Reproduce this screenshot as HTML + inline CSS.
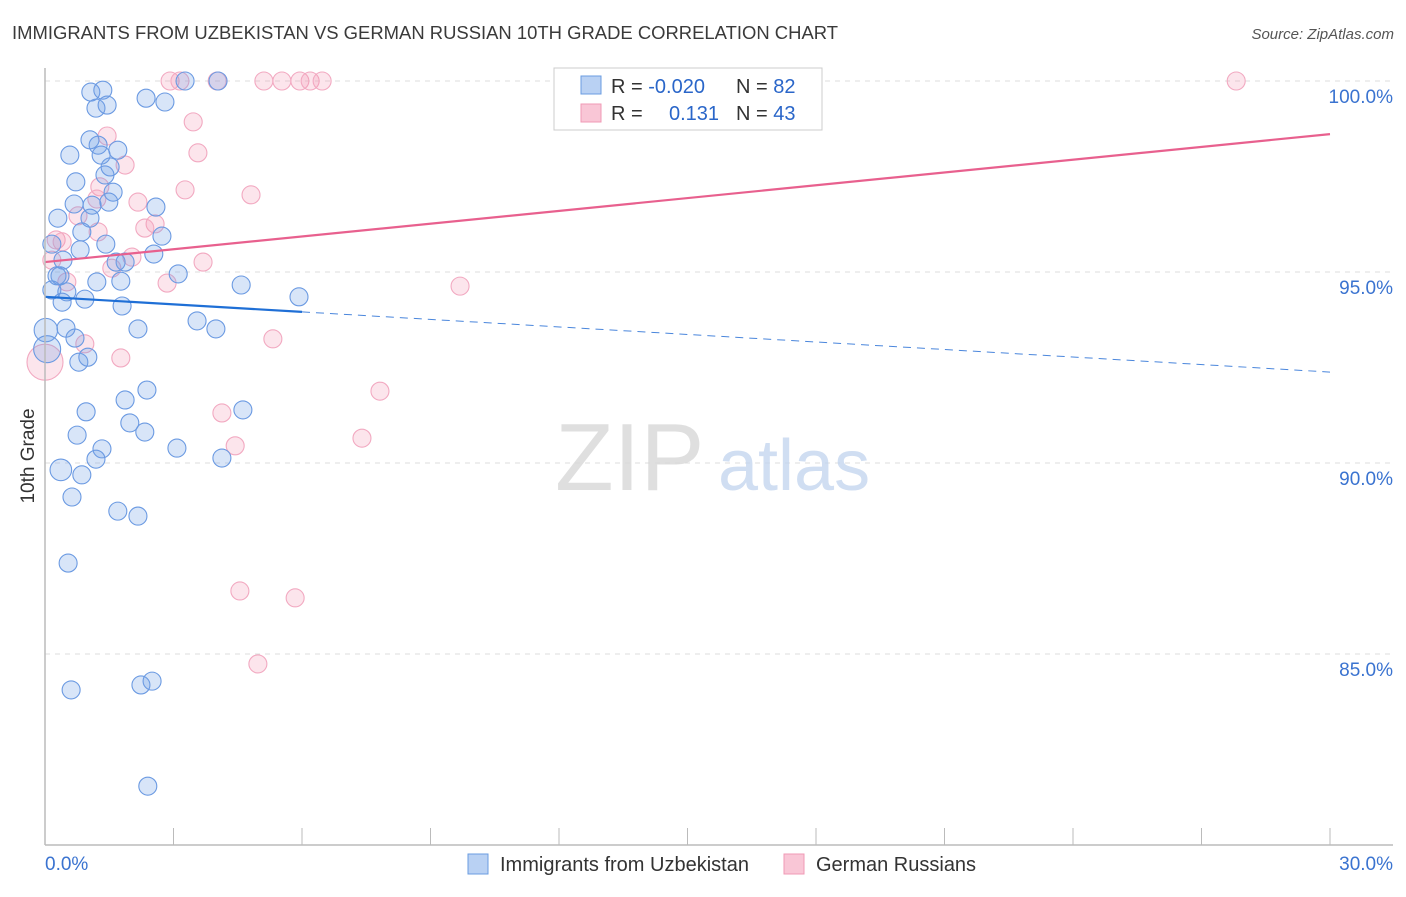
<!DOCTYPE html>
<html><head><meta charset="utf-8"><style>
body{margin:0;background:#fff;font-family:"Liberation Sans",sans-serif;}
svg text{font-family:"Liberation Sans",sans-serif;}
</style></head><body>
<svg id="chart" width="1406" height="892" xmlns="http://www.w3.org/2000/svg">
<text x="12" y="39" font-size="18.5" fill="#3a3a3a" textLength="826" lengthAdjust="spacingAndGlyphs">IMMIGRANTS FROM UZBEKISTAN VS GERMAN RUSSIAN 10TH GRADE CORRELATION CHART</text>
<text x="1394" y="39" font-size="15" fill="#555" font-style="italic" text-anchor="end">Source: ZipAtlas.com</text>
<g id="grid"></g>
<text x="555" y="490" font-size="96" fill="#d8d8d8" font-family="Liberation Serif" opacity="0.8">ZIP</text>
<text x="718" y="490" font-size="72" fill="#c5d6ef" opacity="0.8">atlas</text>
<g id="points"></g>
<g id="lines"></g>
<line x1="45" y1="68" x2="45" y2="845" stroke="#bbb" stroke-width="1.5"/>
<line x1="45" y1="845" x2="1393" y2="845" stroke="#bbb" stroke-width="1.5"/>
<text transform="translate(34,456) rotate(-90)" font-size="19" fill="#333" text-anchor="middle">10th Grade</text>
<text x="45" y="870" font-size="19" fill="#3a73d0">0.0%</text>
<text x="1393" y="870" font-size="19" fill="#3a73d0" text-anchor="end">30.0%</text>
<g>
<rect x="554" y="68" width="268" height="62" fill="#fff" stroke="#ccc"/>
<rect x="581" y="76" width="20" height="18" fill="#b9d1f3" stroke="#6a9ce0"/>
<rect x="581" y="104" width="20" height="18" fill="#f9c6d6" stroke="#f09ab5"/>
<text x="611" y="93" font-size="20" fill="#333">R = <tspan fill="#2a66c9">-0.020</tspan></text>
<text x="736" y="93" font-size="20" fill="#333">N = <tspan fill="#2a66c9">82</tspan></text>
<text x="611" y="120" font-size="20" fill="#333">R = </text>
<text x="669" y="120" font-size="20" fill="#2a66c9">0.131</text>
<text x="736" y="120" font-size="20" fill="#333">N = <tspan fill="#2a66c9">43</tspan></text>
</g>
<g><rect x="468" y="854" width="20" height="20" fill="#b9d1f3" stroke="#6a9ce0"/><text x="500" y="871" font-size="20" fill="#333">Immigrants from Uzbekistan</text></g>
<g><rect x="784" y="854" width="20" height="20" fill="#f9c6d6" stroke="#f09ab5"/><text x="816" y="871" font-size="20" fill="#333">German Russians</text></g>
</svg>
<script>
const blueX=[1.07,1.35,1.19,1.45,2.36,2.80,3.27,4.04,0.58,1.24,1.31,1.70,1.05,1.52,1.59,1.40,0.72,0.68,0.30,1.10,1.49,1.05,0.86,2.59,2.73,1.42,0.82,0.16,0.42,1.87,1.66,2.54,0.28,0.35,0.51,0.16,0.40,0.93,1.21,1.77,1.80,3.11,4.58,5.93,0.49,2.17,3.55,3.99,0.02,0.70,0.05,0.79,1.00,2.38,1.87,0.96,4.62,1.98,2.33,0.75,3.08,1.33,1.19,4.13,0.37,0.86,0.63,1.70,2.17,0.54,0.61,2.24,2.50,2.40];
const blueY=[99.71,99.76,99.29,99.37,99.55,99.45,100,100,98.06,98.32,98.06,98.19,98.46,97.75,97.09,97.54,97.36,96.78,96.41,96.75,96.83,96.41,96.05,96.70,95.94,95.73,95.58,95.73,95.31,95.26,95.26,95.47,94.90,94.90,94.48,94.53,94.21,94.29,94.74,94.76,94.11,94.95,94.66,94.35,93.53,93.51,93.72,93.51,93.48,93.27,92.98,92.64,92.77,91.91,91.65,91.34,91.39,91.05,90.81,90.73,90.39,90.37,90.10,90.13,89.82,89.69,89.11,88.74,88.61,87.38,84.06,84.19,84.29,81.54];
const blueSize=[1,1,1,1,1,1,1,1,1,1,1,1,1,1,1,1,1,1,1,1,1,1,1,1,1,1,1,1,1,1,1,1,1,1,1,1,1,1,1,1,1,1,1,1,1,1,1,1,1.3,1,1.5,1,1,1,1,1,1,1,1,1,1,1,1,1,1.2,1,1,1,1,1,1,1,1,1];
const pinkX=[2.92,3.15,4.02,5.11,5.53,5.95,6.19,6.47,12.42,27.81,1.45,3.46,3.57,1.87,3.27,4.81,1.28,1.21,2.17,2.57,2.33,0.77,1.24,0.26,0.40,0.16,1.56,0.51,2.85,3.69,9.69,5.32,0.93,1.77,0,4.13,7.82,4.44,7.40,4.55,5.84,4.97,2.03];
const pinkY=[100,100,100,100,100,100,100,100,100,100,98.56,98.93,98.12,97.80,97.15,97.02,97.23,96.91,96.83,96.26,96.15,96.47,96.05,95.84,95.79,95.31,95.10,94.74,94.71,95.26,94.63,93.25,93.12,92.75,92.64,91.31,91.88,90.45,90.65,86.65,86.47,84.74,95.39];
const pinkSize=[1,1,1,1,1,1,1,1,1,1,1,1,1,1,1,1,1,1,1,1,1,1,1,1,1,1,1,1,1,1,1,1,1,1,2,1,1,1,1,1,1,1,1];
const yTicks=[100,95,90,85];
const blueTrend=[94.35,92.38];
const pinkTrend=[95.26,98.61];
const NS="http://www.w3.org/2000/svg";
function sx(v){return 45+v*(1285/30);}
function sy(v){return 81+(100-v)*38.2;}
const grid=document.getElementById('grid');
yTicks.forEach(t=>{
const l=document.createElementNS(NS,'line');
l.setAttribute('x1',45);l.setAttribute('x2',1393);l.setAttribute('y1',sy(t));l.setAttribute('y2',sy(t));
l.setAttribute('stroke','#ddd');l.setAttribute('stroke-dasharray','5,5');


grid.appendChild(l);
const tx=document.createElementNS(NS,'text');
tx.setAttribute('x',1393);tx.setAttribute('y',sy(t)+22);tx.setAttribute('text-anchor','end');
tx.setAttribute('font-size','19');tx.setAttribute('fill','#3a73d0');tx.textContent=t.toFixed(1)+'%';


grid.appendChild(tx);
});
for(let i=0;i<=10;i++){
const l=document.createElementNS(NS,'line');
const x=sx(i*3);
l.setAttribute('x1',x);l.setAttribute('x2',x);l.setAttribute('y1',828);l.setAttribute('y2',845);
l.setAttribute('stroke','#bbb');


grid.appendChild(l);
}
const pts=document.getElementById('points');
function dot(x,y,s,fill,stroke,name){
const c=document.createElementNS(NS,'circle');
c.setAttribute('cx',sx(x));c.setAttribute('cy',sy(y));c.setAttribute('r',9*s);
c.setAttribute('fill',fill);c.setAttribute('stroke',stroke);c.setAttribute('stroke-width','1.1');


pts.appendChild(c);
}
pinkX.forEach((x,i)=>dot(x,pinkY[i],pinkSize[i],'rgba(244,150,180,0.25)','#f2a9c1','german-russian-point'));
blueX.forEach((x,i)=>dot(x,blueY[i],blueSize[i],'rgba(110,160,230,0.27)','#6b9ae2','uzbekistan-point'));
const lines=document.getElementById('lines');
function seg(x1,y1,x2,y2,col,w,dash,name){
const l=document.createElementNS(NS,'line');
l.setAttribute('x1',sx(x1));l.setAttribute('y1',sy(y1));l.setAttribute('x2',sx(x2));l.setAttribute('y2',sy(y2));
l.setAttribute('stroke',col);l.setAttribute('stroke-width',w);
if(dash)l.setAttribute('stroke-dasharray',dash);


lines.appendChild(l);
}
const bAt=x=>blueTrend[0]+(blueTrend[1]-blueTrend[0])*x/30;
seg(0,bAt(0),6,bAt(6),'#1f6fd6',2.2,null,'uzbekistan-trend-line');
seg(6,bAt(6),30,bAt(30),'#4a86dc',1,'8,6','uzbekistan-trend-extension');
seg(0,pinkTrend[0],30,pinkTrend[1],'#e8608e',2.2,null,'german-russian-trend-line');
</script>
</body></html>
